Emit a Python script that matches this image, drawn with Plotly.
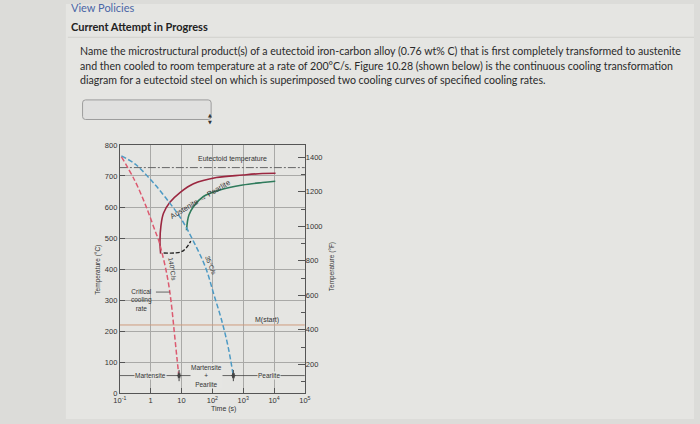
import plotly.graph_objects as go

W, H = 700, 424

def fx(x):
    return x / W

def fy(y):
    return 1 - y / H

# ---------------- data (time in s, temperature in °C) ----------------
crit_t = [0.112, 0.302, 0.708, 1.32, 1.78, 2.29, 3.09, 3.98, 4.90, 5.89, 7.08, 8.32]
crit_T = [762, 686, 602, 529, 495, 455, 400, 340, 270, 192, 115, 50]

slow_t = [0.112, 0.316, 1.0, 3.16, 10, 25.1, 60.3, 112, 200, 324, 479]
slow_T = [765, 738, 688, 628, 560, 487, 405, 318, 235, 150, 55]

start_t = [2.1, 2.0, 2.15, 2.6, 4.2, 9.3, 24.5, 135, 955, 4170, 11200]
start_T = [450, 490, 540, 580, 615, 648, 675, 695, 703, 708, 709]

finish_t = [14.5, 15.5, 17.5, 24.5, 51.3, 174, 955, 4170, 10960]
finish_T = [525, 552, 575, 602, 634, 655, 671, 679, 683]

stop_t = [2.63, 6.31, 10, 14.1, 20]
stop_T = [452, 452, 456, 468, 490]

eutectoid_T = 727
ms_T = 220
t_range = [0.1, 100000]
label_T = 57

x_tickvals = [0.1, 1, 10, 100, 1000, 10000, 100000]
x_ticktext = ["10<sup>-1</sup>", "1", "10", "10<sup>2</sup>", "10<sup>3</sup>", "10<sup>4</sup>", "10<sup>5</sup>"]
c_ticks = [0, 100, 200, 300, 400, 500, 600, 700, 800]
f_ticks = [200, 400, 600, 800, 1000, 1200, 1400]
f_minor = [100, 300, 500, 700, 900, 1100, 1300]

# ---------------- styles ----------------
PAGE_BG = "#dcdcd9"
CONTENT_BG = "#e5e5e2"
PLOT_BG = "#e6e6e3"
FONT = "Liberation Sans, Arial, sans-serif"
TXT = "#333333"

fig = go.Figure()

fig.add_trace(go.Scatter(x=t_range, y=[eutectoid_T, eutectoid_T], mode="lines",
                         line=dict(color="#666666", width=1, dash="8px,2px,2px,2px"),
                         hoverinfo="skip", showlegend=False))
fig.add_trace(go.Scatter(x=t_range, y=[ms_T, ms_T], mode="lines",
                         line=dict(color="#cf9c7e", width=1), hoverinfo="skip", showlegend=False))
fig.add_trace(go.Scatter(x=start_t, y=start_T, mode="lines", line_shape="spline",
                         line=dict(color="#9b2740", width=1.6), showlegend=False))
fig.add_trace(go.Scatter(x=finish_t, y=finish_T, mode="lines", line_shape="spline",
                         line=dict(color="#2f7b5c", width=1.6), showlegend=False))
fig.add_trace(go.Scatter(x=stop_t, y=stop_T, mode="lines", line_shape="spline",
                         line=dict(color="#222222", width=1.4, dash="4px,2px"), showlegend=False))
fig.add_trace(go.Scatter(x=crit_t, y=crit_T, mode="lines", line_shape="spline",
                         line=dict(color="#dc5a70", width=1.5, dash="5px,2.5px"), showlegend=False))
fig.add_trace(go.Scatter(x=slow_t, y=slow_T, mode="lines", line_shape="spline",
                         line=dict(color="#4d9ac4", width=1.5, dash="5px,2.5px"), showlegend=False))

# product ranges at bottom
t_c = crit_t[-1]
t_s = slow_t[-1]
seg_style = dict(color="#444444", width=0.8)
for xs in ([t_range[0], t_c], [t_c, t_s], [t_s, t_range[1]]):
    fig.add_trace(go.Scatter(x=xs, y=[label_T, label_T], mode="lines", line=seg_style,
                             hoverinfo="skip", showlegend=False))
fig.add_trace(go.Scatter(x=[t_c, t_s], y=[label_T, label_T], mode="markers",
                         marker=dict(symbol="triangle-right", size=5, color="#444444"),
                         hoverinfo="skip", showlegend=False))
fig.add_trace(go.Scatter(x=[t_c, t_s], y=[label_T, label_T], mode="markers",
                         marker=dict(symbol="triangle-left", size=5, color="#444444"),
                         hoverinfo="skip", showlegend=False))
fig.add_trace(go.Scatter(x=[t_c, t_s], y=[label_T, label_T], mode="markers",
                         marker=dict(symbol="line-ns", size=8, line=dict(color="#444444", width=1)),
                         hoverinfo="skip", showlegend=False))
# critical cooling rate pointer
fig.add_trace(go.Scatter(x=[1.48, 4.17], y=[326, 326], mode="lines",
                         line=dict(color="#444444", width=0.8), hoverinfo="skip", showlegend=False))
# right axis (°F)
fig.add_trace(go.Scatter(x=[1], y=[800], yaxis="y2", mode="markers", marker=dict(opacity=0),
                         hoverinfo="skip", showlegend=False))

ann = []

def A(text, x, y, size=7, angle=0, bg=None, xref="x", yref="y", **kw):
    d = dict(text=text, x=x, y=y, xref=xref, yref=yref, showarrow=False,
             font=dict(family=FONT, size=size, color=TXT), textangle=angle)
    if bg:
        d.update(bgcolor=bg, borderpad=0)
    d.update(kw)
    ann.append(d)

A("Eutectoid temperature", 2.66, 756, size=7)
A("Austenite → Pearlite", 1.6, 624, size=7.5, angle=-31)
A("140°C/s", 0.72, 400, size=6.5, angle=82)
A("35°C/s", 1.96, 412, size=6.5, angle=68)
A("Critical<br>cooling<br>rate", -0.29, 300, size=6.5)
A("M(start)", 3.78, 237, size=7)
A("Martensite", 0.0, label_T, size=6.5, bg=PLOT_BG)
A("Martensite<br>+<br>Pearlite", 1.81, label_T, size=6.5, bg=PLOT_BG)
A("Pearlite", 3.83, label_T, size=6.5, bg=PLOT_BG)

A("Temperature (°C)", fx(87), fy(271), size=6.5, angle=-90, xref="paper", yref="paper")
A("Temperature (°F)", fx(331), fy(268), size=6.5, angle=-90, xref="paper", yref="paper")
A("Time (s)", fx(206), fy(419.5), size=7, xref="paper", yref="paper")

# page texts
PFONT = "Lato, Open Sans, sans-serif"
ann.append(dict(text="View Policies", x=fx(63), y=fy(3.5), xref="paper", yref="paper",
                xanchor="left", yanchor="middle", showarrow=False,
                font=dict(family=PFONT, size=11, color="#4a66a6")))
ann.append(dict(text="<b>Current Attempt in Progress</b>", x=fx(63), y=fy(22.5), xref="paper",
                yref="paper", xanchor="left", yanchor="middle", showarrow=False,
                font=dict(family=PFONT, size=11, color="#222222")))
q_lines = [
    "Name the microstructural product(s) of a eutectoid iron-carbon alloy (0.76 wt% C) that is first completely transformed to austenite",
    "and then cooled to room temperature at a rate of 200°C/s. Figure 10.28 (shown below) is the continuous cooling transformation",
    "diagram for a eutectoid steel on which is superimposed two cooling curves of specified cooling rates.",
]
for i, line in enumerate(q_lines):
    ann.append(dict(text=line, x=fx(72), y=fy(48 + 15 * i), xref="paper", yref="paper",
                    xanchor="left", yanchor="middle", showarrow=False,
                    font=dict(family=PFONT, size=10.6, color="#2a2a2a")))
ann.append(dict(text="▲<br>▼", x=fx(203), y=fy(108), xref="paper", yref="paper", showarrow=False,
                font=dict(family="DejaVu Sans", size=5, color="#333333")))

shapes = [
    dict(type="rect", xref="paper", yref="paper", x0=fx(60), x1=1, y0=0, y1=1,
         fillcolor=CONTENT_BG, line=dict(width=0), layer="below"),
    dict(type="line", xref="paper", yref="paper", x0=fx(62), x1=1, y0=fy(34), y1=fy(34),
         line=dict(color="#d0d0cd", width=1), layer="below"),
    dict(type="path", xref="paper", yref="paper",
         path=(f"M {fx(80)},{fy(98)} L {fx(205)},{fy(98)} Q {fx(208)},{fy(98)} {fx(208)},{fy(101)} "
               f"L {fx(208)},{fy(115)} Q {fx(208)},{fy(118)} {fx(205)},{fy(118)} "
               f"L {fx(80)},{fy(118)} Q {fx(77)},{fy(118)} {fx(77)},{fy(115)} "
               f"L {fx(77)},{fy(101)} Q {fx(77)},{fy(98)} {fx(80)},{fy(98)} Z"),
         fillcolor="#e0e0df", line=dict(color="#9c9c9c", width=1), layer="below"),
]

xdom = [fx(115), fx(303.5)]
ydom = [fy(397.7), fy(144)]
axfont = dict(family=FONT, size=7.5, color=TXT)

fig.update_layout(
    width=W, height=H, autosize=False,
    margin=dict(l=0, r=0, t=0, b=0),
    paper_bgcolor=PAGE_BG, plot_bgcolor=PLOT_BG, showlegend=False,
    xaxis=dict(type="log", range=[-1, 5], domain=xdom, tickvals=x_tickvals, ticktext=x_ticktext,
               showgrid=True, gridcolor="#a9a9a7", gridwidth=1, showline=True, linecolor="#555555",
               linewidth=1, mirror=True, ticks="inside", ticklen=5, tickcolor="#555555",
               tickfont=axfont, zeroline=False, fixedrange=True),
    yaxis=dict(range=[0, 800], domain=ydom, tickvals=c_ticks, showgrid=True, gridcolor="#a9a9a7",
               gridwidth=1, showline=True, linecolor="#555555", linewidth=1, mirror=True,
               ticks="inside", ticklen=5, tickcolor="#555555", tickfont=axfont, zeroline=False,
               fixedrange=True),
    yaxis2=dict(range=[32, 1472], overlaying="y", side="right", anchor="x", tickvals=f_ticks,
                showgrid=False, showline=False, ticks="inside", ticklen=7, tickcolor="#555555",
                tickfont=axfont, zeroline=False, fixedrange=True,
                minor=dict(tickvals=f_minor, ticks="inside", ticklen=4, tickcolor="#555555",
                           showgrid=False)),
    annotations=ann, shapes=shapes,
)

# reset the page margins synchronously (outside the newPlot promise)
PS = ("}); var st=document.createElement('style');"
      "st.textContent='html,body{margin:0!important;padding:0!important;overflow:hidden!important;}';"
      "document.head.appendChild(st);"
      "(function(){")
fig.write_html("out.html", config={"displayModeBar": False}, post_script=PS)
